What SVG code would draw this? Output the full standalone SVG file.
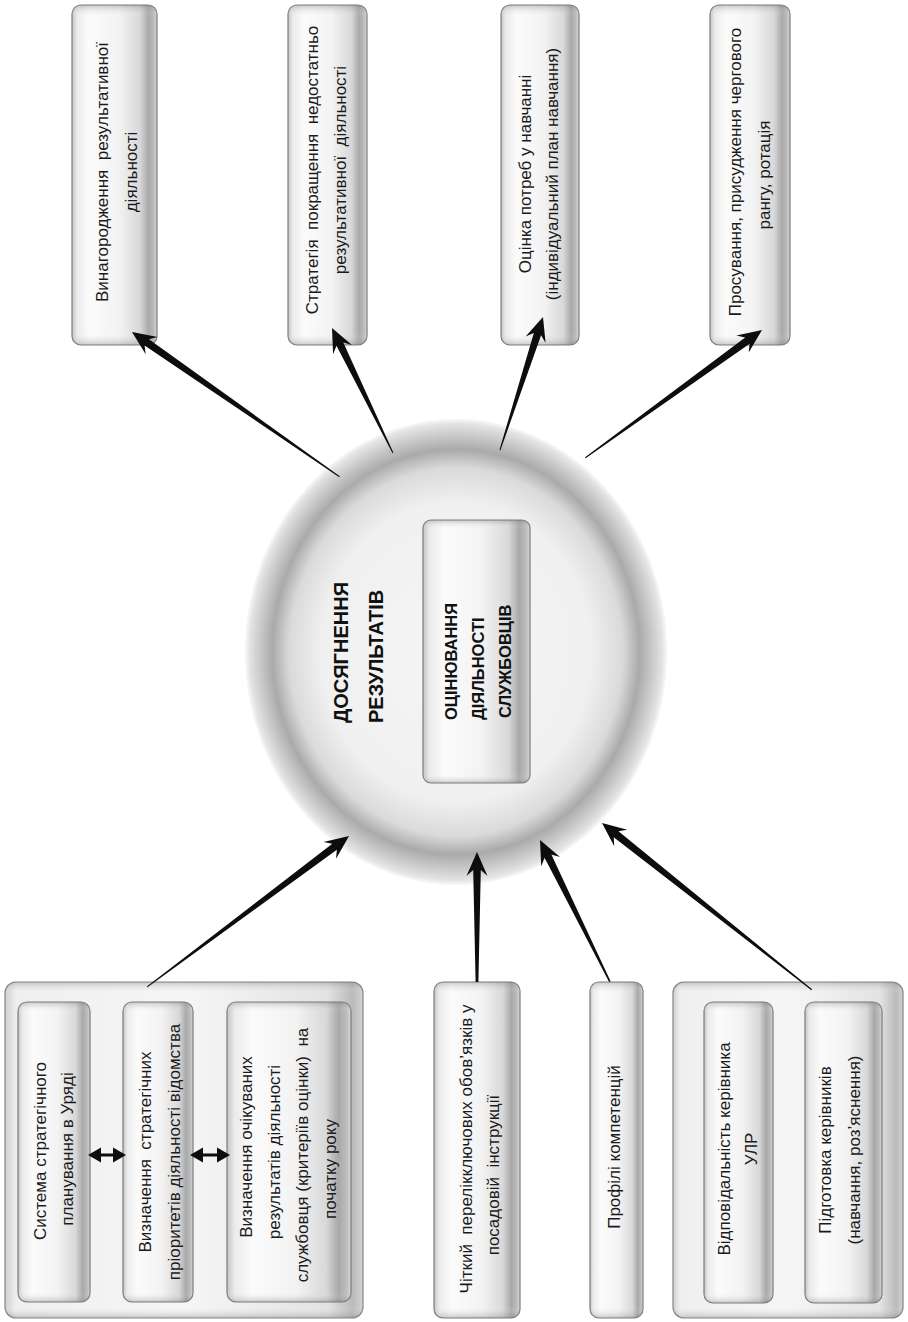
<svg xmlns="http://www.w3.org/2000/svg" width="908" height="1322" viewBox="0 0 908 1322">
  <defs>
    <!-- cylinder-like shading across the width of each box -->
    <linearGradient id="cyl" x1="0" y1="0" x2="1" y2="0">
      <stop offset="0" stop-color="#c4c4c4"/>
      <stop offset="0.06" stop-color="#ebebeb"/>
      <stop offset="0.2" stop-color="#fbfbfb"/>
      <stop offset="0.55" stop-color="#f3f3f3"/>
      <stop offset="0.8" stop-color="#d8d8d8"/>
      <stop offset="0.9" stop-color="#a8a8a8"/>
      <stop offset="0.96" stop-color="#bcbcbc"/>
      <stop offset="1" stop-color="#d6d6d6"/>
    </linearGradient>
    <linearGradient id="frame" x1="0" y1="0" x2="1" y2="0">
      <stop offset="0" stop-color="#cfcfcf"/>
      <stop offset="0.03" stop-color="#efefef"/>
      <stop offset="0.5" stop-color="#f6f6f6"/>
      <stop offset="0.9" stop-color="#e3e3e3"/>
      <stop offset="0.97" stop-color="#bababa"/>
      <stop offset="1" stop-color="#d2d2d2"/>
    </linearGradient>
    <!-- darker ends at the top and bottom of a box -->
    <linearGradient id="caps" x1="0" y1="0" x2="0" y2="1">
      <stop offset="0" stop-color="#707070" stop-opacity="0.35"/>
      <stop offset="0.035" stop-color="#ffffff" stop-opacity="0"/>
      <stop offset="0.965" stop-color="#ffffff" stop-opacity="0"/>
      <stop offset="1" stop-color="#707070" stop-opacity="0.35"/>
    </linearGradient>
    <radialGradient id="disc" cx="0.5" cy="0.5" r="0.5">
      <stop offset="0" stop-color="#f6f6f6"/>
      <stop offset="0.64" stop-color="#f0f0f0"/>
      <stop offset="0.79" stop-color="#dadada"/>
      <stop offset="0.87" stop-color="#aaaaaa"/>
      <stop offset="0.93" stop-color="#c9c9c9"/>
      <stop offset="0.98" stop-color="#e4e4e4"/>
      <stop offset="1" stop-color="#eeeeee" stop-opacity="0.5"/>
    </radialGradient>
  </defs>
  <style>
    .box { fill: url(#cyl); stroke: #7c7c7c; stroke-width: 1.2; }
    .frame { fill: url(#frame); stroke: #858585; stroke-width: 1.2; }
    .cap { fill: url(#caps); stroke: none; }
    .t { font-family: "Liberation Sans", Arial, sans-serif; font-size: 17px; fill: #1a1a1a; text-anchor: middle; white-space: pre; }
    .h { font-family: "Liberation Sans", Arial, sans-serif; font-weight: bold; fill: #111; text-anchor: start; }
    .arrow { fill: #0d0d0d; stroke: none; }
    .dbl { stroke: #0d0d0d; stroke-width: 3; fill: none; }
  </style>

  <rect width="908" height="1322" fill="#ffffff"/>

  <!-- outcome boxes along the top -->
  <g id="reward">
    <rect class="box" x="72" y="5" width="85" height="340" rx="9"/>
    <rect class="cap" x="72" y="5" width="85" height="340" rx="9"/>
    <text class="t" transform="translate(108,172) rotate(-90)"><tspan x="0" y="0">Винагородження  результативної</tspan><tspan x="0" y="29">діяльності</tspan></text>
  </g>
  <g id="improvement">
    <rect class="box" x="288" y="5" width="79" height="340" rx="9"/>
    <rect class="cap" x="288" y="5" width="79" height="340" rx="9"/>
    <text class="t" transform="translate(318,170) rotate(-90)"><tspan x="0" y="0">Стратегія  покращення  недостатньо</tspan><tspan x="0" y="28">результативної  діяльності</tspan></text>
  </g>
  <g id="training-needs">
    <rect class="box" x="501" y="5" width="78" height="340" rx="9"/>
    <rect class="cap" x="501" y="5" width="78" height="340" rx="9"/>
    <text class="t" transform="translate(531,174) rotate(-90)"><tspan x="0" y="0">Оцінка потреб у навчанні</tspan><tspan x="0" y="27">(індивідуальний план навчання)</tspan></text>
  </g>
  <g id="promotion">
    <rect class="box" x="710" y="5" width="80" height="340" rx="9"/>
    <rect class="cap" x="710" y="5" width="80" height="340" rx="9"/>
    <text class="t" transform="translate(741,172) rotate(-90)"><tspan x="0" y="0">Просування, присудження чергового</tspan><tspan x="-3" y="29">рангу, ротація</tspan></text>
  </g>

  <!-- central disc -->
  <g id="results">
    <ellipse cx="456" cy="652" rx="211" ry="233" fill="url(#disc)"/>
    <text class="h" font-size="20" transform="translate(348,723) rotate(-90)"><tspan x="0" y="0">ДОСЯГНЕННЯ</tspan><tspan x="0" y="35">РЕЗУЛЬТАТІВ</tspan></text>
    <g id="appraisal">
      <rect class="box" x="423" y="520" width="107" height="263" rx="8"/>
      <rect class="cap" x="423" y="520" width="107" height="263" rx="8"/>
      <text class="h" font-size="16.5" transform="translate(457,720) rotate(-90)"><tspan x="0" y="0">ОЦІНЮВАННЯ</tspan><tspan x="0" y="27">ДІЯЛЬНОСТІ</tspan><tspan x="2" y="54">СЛУЖБОВЦІВ</tspan></text>
    </g>
  </g>

  <!-- planning group, bottom left -->
  <g id="planning">
    <rect class="frame" x="5" y="982" width="358" height="336" rx="11"/>
    <rect class="cap" x="5" y="982" width="358" height="336" rx="11"/>
    <g id="gov-planning">
      <rect class="box" x="18" y="1002" width="72" height="300" rx="9"/>
      <rect class="cap" x="18" y="1002" width="72" height="300" rx="9"/>
      <text class="t" transform="translate(46,1151) rotate(-90)"><tspan x="0" y="0">Система стратегічного</tspan><tspan x="2" y="27">планування в Уряді</tspan></text>
    </g>
    <g id="priorities">
      <rect class="box" x="123" y="1002" width="70" height="300" rx="9"/>
      <rect class="cap" x="123" y="1002" width="70" height="300" rx="9"/>
      <text class="t" transform="translate(151,1152) rotate(-90)"><tspan x="0" y="0">Визначення  стратегічних</tspan><tspan x="0" y="29">пріоритетів діяльності відомства</tspan></text>
    </g>
    <g id="expected-results">
      <rect class="box" x="227" y="1002" width="124" height="300" rx="9"/>
      <rect class="cap" x="227" y="1002" width="124" height="300" rx="9"/>
      <text class="t" transform="translate(252,1152) rotate(-90)"><tspan x="5" y="0">Визначення очікуваних</tspan><tspan x="0" y="28">результатів діяльності</tspan><tspan x="-3" y="56">службовця (критеріїв оцінки)  на</tspan><tspan x="-17" y="84">початку року</tspan></text>
    </g>
  </g>

  <g id="duties">
    <rect class="box" x="434" y="982" width="86" height="336" rx="9"/>
    <rect class="cap" x="434" y="982" width="86" height="336" rx="9"/>
    <text class="t" transform="translate(472,1149) rotate(-90)"><tspan x="0" y="0">Чіткий  перелікключових обов’язків у</tspan><tspan x="-26" y="27">посадовій  інструкції</tspan></text>
  </g>

  <g id="competences">
    <rect class="box" x="590" y="982" width="53" height="336" rx="9"/>
    <rect class="cap" x="590" y="982" width="53" height="336" rx="9"/>
    <text class="t" transform="translate(620,1147) rotate(-90)">Профілі компетенцій</text>
  </g>

  <!-- managers group, bottom right -->
  <g id="managers">
    <rect class="frame" x="673" y="982" width="230" height="336" rx="11"/>
    <rect class="cap" x="673" y="982" width="230" height="336" rx="11"/>
    <g id="responsibility">
      <rect class="box" x="704" y="1002" width="69" height="301" rx="9"/>
      <rect class="cap" x="704" y="1002" width="69" height="301" rx="9"/>
      <text class="t" transform="translate(730,1149) rotate(-90)"><tspan x="0" y="0">Відповідальність керівника</tspan><tspan x="0" y="27">УЛР</tspan></text>
    </g>
    <g id="manager-training">
      <rect class="box" x="805" y="1002" width="77" height="301" rx="9"/>
      <rect class="cap" x="805" y="1002" width="77" height="301" rx="9"/>
      <text class="t" transform="translate(831,1150) rotate(-90)"><tspan x="0" y="0">Підготовка керівників</tspan><tspan x="0" y="29">(навчання, роз’яснення)</tspan></text>
    </g>
  </g>

  <!-- connectors: tapered arrows, tip at the local origin -->
  <g id="connectors">
    <!-- inputs into the disc -->
    <polygon class="arrow" transform="translate(349,836) rotate(-36.78)" points="0,0 -24,-10.5 -18,-3.8 -252,-0.6 -252,0.6 -18,3.8 -24,10.5"/>
    <polygon class="arrow" transform="translate(477,852) rotate(-90)" points="0,0 -24,-10.5 -18,-3.8 -130,-1.4 -130,1.4 -18,3.8 -24,10.5"/>
    <polygon class="arrow" transform="translate(540,840) rotate(-116.24)" points="0,0 -24,-10.5 -18,-3.8 -158,-0.8 -158,0.8 -18,3.8 -24,10.5"/>
    <polygon class="arrow" transform="translate(602,823) rotate(-141.51)" points="0,0 -24,-10.5 -18,-3.8 -268,-0.6 -268,0.6 -18,3.8 -24,10.5"/>
    <!-- outputs from the disc -->
    <polygon class="arrow" transform="translate(132,332) rotate(-145.11)" points="0,0 -24,-10.5 -18,-3.8 -253,-0.5 -253,0.5 -18,3.8 -24,10.5"/>
    <polygon class="arrow" transform="translate(332,328) rotate(-116.01)" points="0,0 -24,-10.5 -18,-3.8 -139,-0.5 -139,0.5 -18,3.8 -24,10.5"/>
    <polygon class="arrow" transform="translate(543,317) rotate(-72.08)" points="0,0 -24,-10.5 -18,-3.8 -140,-0.5 -140,0.5 -18,3.8 -24,10.5"/>
    <polygon class="arrow" transform="translate(762,330) rotate(-35.87)" points="0,0 -24,-10.5 -18,-3.8 -218,-0.5 -218,0.5 -18,3.8 -24,10.5"/>
    <!-- two-way links inside the planning group -->
    <line class="dbl" x1="98" y1="1155" x2="116" y2="1155"/>
    <polygon class="arrow" points="88,1155 101,1147.5 101,1162.5"/>
    <polygon class="arrow" points="126,1155 113,1147.5 113,1162.5"/>
    <line class="dbl" x1="200" y1="1155" x2="220" y2="1155"/>
    <polygon class="arrow" points="190,1155 203,1147.5 203,1162.5"/>
    <polygon class="arrow" points="230,1155 217,1147.5 217,1162.5"/>
  </g>
</svg>
